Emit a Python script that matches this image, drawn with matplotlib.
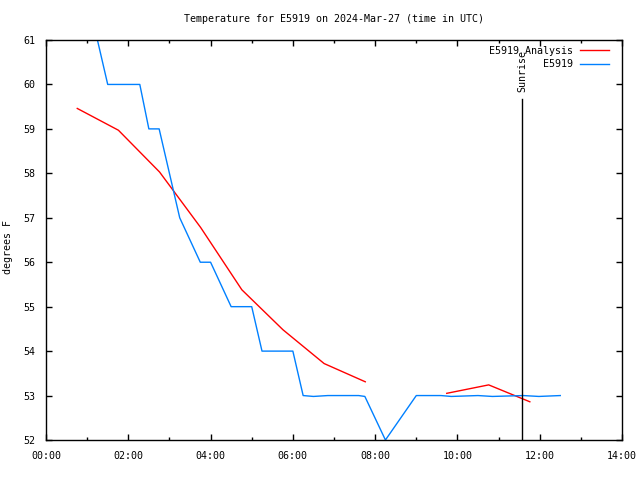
import matplotlib
matplotlib.use("Agg")
import matplotlib.pyplot as plt
from matplotlib.ticker import MultipleLocator, FuncFormatter
import numpy as np

# ─── DATA ───────────────────────────────────────────
# hours since 00:00 UTC
obs_hours = [1.25, 1.5, 2.28, 2.5, 2.75, 3.0, 3.25, 3.75, 4.0, 4.5, 5.0, 5.25, 6.0,
             6.25, 6.5, 6.85, 7.6, 7.75, 8.25, 9.0, 9.6, 9.85, 10.5, 10.85, 11.6,
             11.98, 12.5]
obs_temps = [61, 60, 60, 59, 59, 58, 57, 56, 56, 55, 55, 54, 54,
             53, 52.98, 53, 53, 52.98, 52, 53, 53, 52.98, 53, 52.98, 53,
             52.98, 53]

ana_hours = [0.76, 1.76, 2.76, 3.76, 4.76, 5.76, 6.76, 7.76, 8.76, 9.74, 10.76, 11.76]
ana_temps = [59.46, 58.97, 58.03, 56.78, 55.38, 54.48, 53.72, 53.31, np.nan,
             53.05, 53.24, 52.86]

sunrise_hour = 11.57
sunrise_top = 59.67

station = "E5919"
title = "Temperature for E5919 on 2024-Mar-27 (time in UTC)"

# ─── PLOT ───────────────────────────────────────────
plt.rcParams["font.family"] = ["DejaVu Sans Mono"]
plt.rcParams["font.size"] = 7.2

fig = plt.figure(figsize=(6.4, 4.8), dpi=100, facecolor="white")
ax = fig.add_axes([46/640, 40/480, 576/640, 400/480])

ax.plot(ana_hours, ana_temps, color="#ff0000", lw=1.0, label=station + " Analysis")
ax.plot(obs_hours, obs_temps, color="#0080ff", lw=1.0, label=station)

ax.plot([sunrise_hour, sunrise_hour], [52, sunrise_top], color="black", lw=1.0)
ax.text(sunrise_hour, sunrise_top + 0.15, "Sunrise", rotation=90,
        ha="center", va="bottom")

ax.set_xlim(0, 14)
ax.set_ylim(52, 61)
ax.xaxis.set_major_locator(MultipleLocator(2))
ax.xaxis.set_minor_locator(MultipleLocator(1))
ax.yaxis.set_major_locator(MultipleLocator(1))
ax.xaxis.set_major_formatter(FuncFormatter(lambda v, p: "%02d:00" % int(round(v))))
ax.tick_params(which="both", direction="in", top=True, right=True, width=1)
ax.tick_params(which="major", length=4.5, pad=8)
ax.tick_params(which="minor", length=2.5)
for s in ax.spines.values():
    s.set_linewidth(1.0)

ax.set_ylabel("degrees F")
ax.yaxis.set_label_coords(-0.057, 0.483)
ax.set_title(title, fontsize=7.2, pad=13)

leg = ax.legend(loc="upper right", bbox_to_anchor=(0.978, 0.985), frameon=False,
                markerfirst=False, handlelength=2.95, handletextpad=0.66,
                borderaxespad=0, borderpad=0, labelspacing=0.35)
for t in leg.get_texts():
    t.set_ha("right")

fig.savefig("out.png", dpi=100, facecolor="white")
